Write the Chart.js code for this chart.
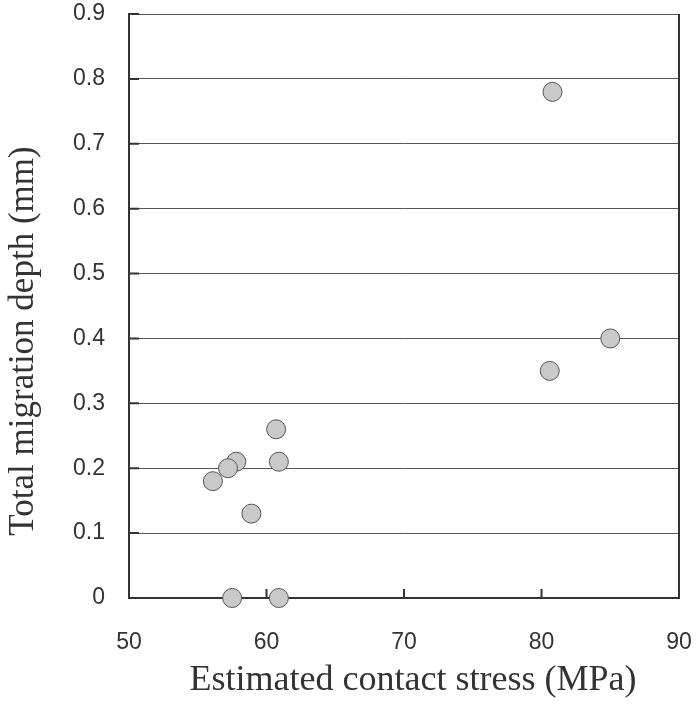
<!DOCTYPE html>
<html lang="en">
<head>
    <meta charset="UTF-8">
    <title>Migration depth vs contact stress</title>
    <script src="https://cdn.jsdelivr.net/npm/chart.js"></script>
    <style>
        html, body { margin: 0; padding: 0; background: #fff; }
        #wrap { width: 697px; height: 704px; }
    </style>
</head>
<body>
    <div id="wrap"><canvas id="scatterChart" width="697" height="704"></canvas></div>

    <script>
        // estimated contact stress (MPa)
        const stress = [80.8, 85.0, 80.6, 60.7, 60.9, 57.8, 57.2, 56.1, 58.9, 57.5, 60.9];
        // total migration depth (mm)
        const depth = [0.78, 0.40, 0.35, 0.26, 0.21, 0.21, 0.20, 0.18, 0.13, 0.00, 0.00];

        const xTicks = [50, 60, 70, 80, 90];
        const yTicks = [0, 0.1, 0.2, 0.3, 0.4, 0.5, 0.6, 0.7, 0.8, 0.9];

        const points = stress.map((s, i) => ({ x: s, y: depth[i] }));

        // frame on the right + inward tick marks
        const frame = {
            id: "frame",
            afterDraw(chart) {
                const ctx = chart.ctx;
                const a = chart.chartArea;
                const xs = chart.scales.x;
                const ys = chart.scales.y;
                ctx.save();
                ctx.strokeStyle = "#333";
                ctx.lineWidth = 2;
                ctx.beginPath();
                ctx.moveTo(a.right, a.top);
                ctx.lineTo(a.right, a.bottom);
                xTicks.forEach(v => {
                    const px = xs.getPixelForValue(v);
                    ctx.moveTo(px, a.bottom);
                    ctx.lineTo(px, a.bottom - 9);
                });
                yTicks.forEach(v => {
                    const py = ys.getPixelForValue(v);
                    ctx.moveTo(a.left, py);
                    ctx.lineTo(a.left + 10, py);
                });
                ctx.stroke();
                ctx.restore();
            }
        };

        function noPad(s) {
            s.paddingTop = 0;
            s.paddingBottom = 0;
            s.paddingLeft = 0;
            s.paddingRight = 0;
        }

        const tickFont = { family: "Arial, 'Liberation Sans'", size: 23 };
        const titleFont = { family: "'Times New Roman', 'Liberation Serif', serif", size: 36 };

        new Chart(document.getElementById("scatterChart"), {
            type: "scatter",
            data: {
                datasets: [{
                    data: points,
                    backgroundColor: "#c9c9c9",
                    borderColor: "#555",
                    borderWidth: 1,
                    pointRadius: 9.5,
                    clip: false
                }]
            },
            options: {
                responsive: false,
                animation: false,
                layout: { padding: { top: 14, right: 18, left: 0, bottom: 0 } },
                plugins: { legend: { display: false }, tooltip: { enabled: false } },
                scales: {
                    x: {
                        min: 50, max: 90,
                        afterBuildTicks: s => { s.ticks = xTicks.map(v => ({ value: v })); },
                        afterFit: s => { s.height = 106; noPad(s); },
                        grid: { display: false },
                        border: { display: true, color: "#333", width: 2 },
                        ticks: {
                            color: "#333",
                            padding: 23,
                            maxRotation: 0,
                            font: tickFont
                        },
                        title: {
                            display: true,
                            text: "  Estimated contact stress (MPa)",
                            color: "#333",
                            padding: { top: 0, bottom: 2 },
                            font: titleFont
                        }
                    },
                    y: {
                        min: 0, max: 0.9,
                        afterBuildTicks: s => { s.ticks = yTicks.map(v => ({ value: v })); },
                        afterFit: s => { s.width = 129; noPad(s); },
                        grid: { color: "#555", lineWidth: 1, drawTicks: false },
                        border: { display: true, color: "#333", width: 2 },
                        ticks: {
                            color: "#333",
                            padding: 24,
                            callback: v => String(Math.round(v * 10) / 10),
                            font: tickFont
                        },
                        title: {
                            display: true,
                            text: "Total migration depth (mm)        ",
                            color: "#333",
                            padding: { top: 3, bottom: 0 },
                            font: { family: titleFont.family, size: 35 }
                        }
                    }
                }
            },
            plugins: [frame]
        });
    </script>
</body>
</html>
